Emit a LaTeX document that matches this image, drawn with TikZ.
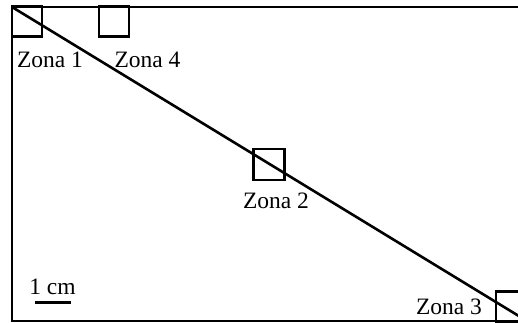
\documentclass[tikz,border=0pt]{standalone}
\usepackage{fontspec}
\setmainfont{Liberation Serif}
\begin{document}
\begin{tikzpicture}[x=1pt,y=-1pt,
    zonebox/.style={draw, line width=2.7pt, minimum size=30pt, inner sep=0pt},
    zonelabel/.style={font=\fontsize{23.5}{26}\selectfont, inner sep=0pt}]

    % Visible area of the plate
    \useasboundingbox (0,0) rectangle (518,323);
    \clip (0,0) rectangle (518,323);

    % Outer frame, its corners define the diagonal
    \coordinate (tl) at (12,7);
    \coordinate (br) at (527,321);
    \draw[line width=2.5pt] (tl) rectangle (br);

    % The four zones
    \node[zonebox] (zone1) at (27,21.5) {};
    \node[zonebox] (zone4) at (114,21.5) {};
    \node[zonebox, minimum size=31pt] (zone2) at (269,164.5) {};
    \node[zonebox] (zone3) at (511,306.5) {};

    % Diagonal through the zones
    \draw[line width=2.6pt] (tl) -- (br);

    % Zone labels
    \node[zonelabel] (label1) at (50,59.5) {Zona 1};
    \node[zonelabel] (label4) at (147.5,59.5) {Zona 4};
    \node[zonelabel] (label2) at (276,201) {Zona 2};
    \node[zonelabel] (label3) at (449,307) {Zona 3};

    % Scale bar
    \node[zonelabel] (scale) at (52.5,287) {1 cm};
    \coordinate (barL) at (35,302);
    \coordinate (barR) at (71,302);
    \draw[line width=3pt] (barL) -- (barR);

\end{tikzpicture}
\end{document}
